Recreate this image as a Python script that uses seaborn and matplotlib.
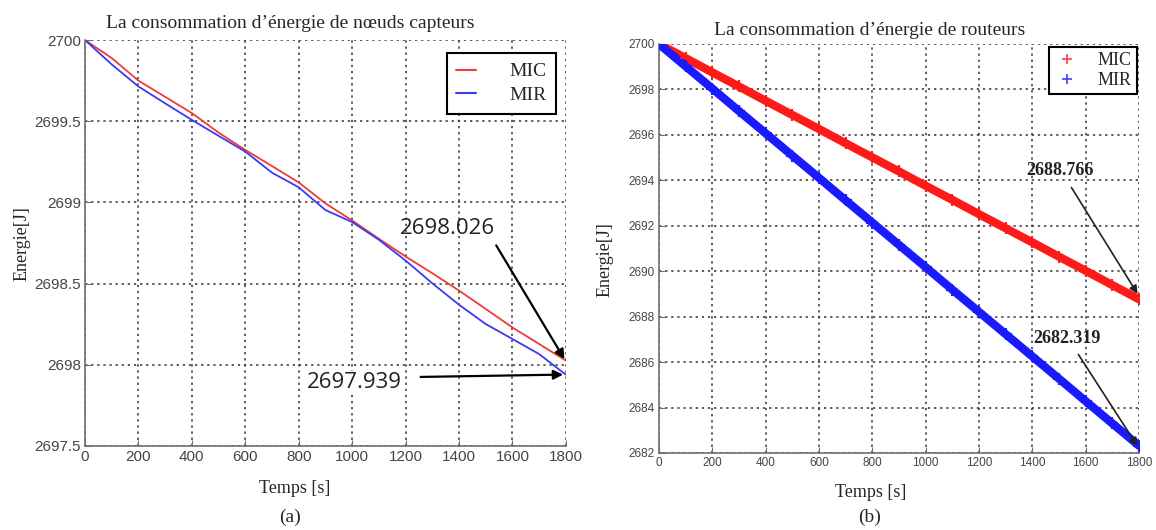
import numpy as np
import pandas as pd
import matplotlib
matplotlib.use('Agg')
import matplotlib.pyplot as plt
import seaborn as sns

# --- données ---
temps = [0, 100, 200, 300, 400, 500, 600, 700, 800, 900,
         1000, 1100, 1200, 1300, 1400, 1500, 1600, 1700, 1800]

# (a) noeuds capteurs
capteurs_mic = [2700.0, 2699.889, 2699.75, 2699.65, 2699.55, 2699.43, 2699.323, 2699.224, 2699.123, 2698.994,
                2698.889, 2698.776, 2698.667, 2698.564, 2698.457, 2698.344, 2698.23, 2698.128, 2698.026]
capteurs_mir = [2700.0, 2699.85, 2699.714, 2699.61, 2699.508, 2699.41, 2699.313, 2699.183, 2699.093, 2698.953,
                2698.879, 2698.77, 2698.642, 2698.502, 2698.37, 2698.251, 2698.159, 2698.066, 2697.939]

# (b) routeurs
routeurs_mic = [2700.0, 2699.38, 2698.75, 2698.13, 2697.50, 2696.88, 2696.26, 2695.63, 2695.01, 2694.39,
                2693.76, 2693.14, 2692.51, 2691.89, 2691.27, 2690.64, 2690.02, 2689.39, 2688.766]
routeurs_mir = [2700.0, 2699.02, 2698.04, 2697.05, 2696.07, 2695.09, 2694.11, 2693.12, 2692.14, 2691.16,
                2690.18, 2689.19, 2688.21, 2687.23, 2686.25, 2685.27, 2684.28, 2683.30, 2682.319]

yticks_a = [2697.5, 2698, 2698.5, 2699, 2699.5, 2700]
yticklabels_a = ['2697.5', '2698', '2698.5', '2699', '2699.5', '2700']
yticks_b = [2682, 2684, 2686, 2688, 2690, 2692, 2694, 2696, 2698, 2700]
xticks = [0, 200, 400, 600, 800, 1000, 1200, 1400, 1600, 1800]

titre_a = 'La consommation d\u2019énergie de nœuds capteurs'
titre_b = 'La consommation d\u2019énergie de routeurs'

sns.set_style('white')
plt.rcParams['font.family'] = ['Liberation Sans', 'DejaVu Sans']

df_a = pd.DataFrame({'Temps': temps * 2,
                     'Energie': capteurs_mic + capteurs_mir,
                     'Méthode': ['MIC'] * len(temps) + ['MIR'] * len(temps)})
df_b = pd.DataFrame({'Temps': temps * 2,
                     'Energie': routeurs_mic + routeurs_mir,
                     'Méthode': ['MIC'] * len(temps) + ['MIR'] * len(temps)})

fig = plt.figure(figsize=(11.56, 5.30), dpi=100)
ax_a = fig.add_axes([0.0735, 0.1585, 0.416, 0.766])
ax_b = fig.add_axes([0.570, 0.1453, 0.4153, 0.7717])

serif = ['Liberation Serif', 'DejaVu Serif']


def style_axes(ax, tick_size):
    ax.grid(True, linestyle=(0, (1.5, 2.5)), color='#333333', linewidth=1.1)
    for s in ['top', 'right']:
        ax.spines[s].set_visible(False)
    for s in ['left', 'bottom']:
        ax.spines[s].set_color('#707070')
        ax.spines[s].set_linewidth(1.2)
    ax.tick_params(direction='in', length=4, color='#707070', labelcolor='#454545',
                   labelsize=tick_size, left=True, bottom=True, pad=3)
    ax.set_xticks(xticks)
    ax.set_xlim(0, 1800)


# (a)
sns.lineplot(data=df_a, x='Temps', y='Energie', hue='Méthode',
             palette={'MIC': '#f03a3a', 'MIR': '#3a3af0'}, linewidth=1.3,
             ax=ax_a, legend=False)
style_axes(ax_a, 11)
ax_a.set_ylim(2697.5, 2700)
ax_a.set_yticks(yticks_a)
ax_a.set_yticklabels(yticklabels_a)
ax_a.set_xlabel('')
ax_a.set_ylabel('')
h1, = ax_a.plot([], [], color='#f03a3a', lw=1.5)
h2, = ax_a.plot([], [], color='#3a3af0', lw=1.5)
leg = ax_a.legend([h1, h2], ['MIC', 'MIR'], loc='upper right', bbox_to_anchor=(0.979, 0.968),
                  borderaxespad=0, fancybox=False, edgecolor='black', framealpha=1,
                  handlelength=1.0, handletextpad=1.7, borderpad=0.5, labelspacing=0.3,
                  prop={'family': serif, 'size': 14})
leg.get_frame().set_linewidth(1.5)

ax_a.annotate('', xy=(1800, 2698.02), xytext=(1534, 2698.75),
              arrowprops=dict(arrowstyle='-|>', color='black', lw=1.6, mutation_scale=14))
ax_a.annotate('', xy=(1800, 2697.94), xytext=(1246, 2697.925),
              arrowprops=dict(arrowstyle='-|>', color='black', lw=1.6, mutation_scale=14))
ax_a.text(1355, 2698.84, '2698.026', fontsize=16, color='#222222', ha='center', va='center',
          family=['Open Sans', 'DejaVu Sans'])
ax_a.text(1007, 2697.894, '2697.939', fontsize=16, color='#222222', ha='center', va='center',
          family=['Open Sans', 'DejaVu Sans'],
          bbox=dict(facecolor='white', edgecolor='none', pad=0.5))

# (b)
for nom, couleur in [('MIC', '#ff1a1a'), ('MIR', '#1a1aff')]:
    sub = df_b[df_b['Méthode'] == nom]
    sns.lineplot(data=sub, x='Temps', y='Energie', color=couleur, linewidth=6,
                 ax=ax_b, legend=False)
    sns.scatterplot(data=sub, x='Temps', y='Energie', color=couleur, marker='+',
                    s=70, linewidth=1.5, ax=ax_b, legend=False, zorder=3)
style_axes(ax_b, 8.5)
ax_b.set_ylim(2682, 2700)
ax_b.set_yticks(yticks_b)
ax_b.set_xlabel('')
ax_b.set_ylabel('')
p1, = ax_b.plot([], [], '+', color='#ff4040', ms=7, mew=1.2)
p2, = ax_b.plot([], [], '+', color='#4040ff', ms=7, mew=1.2)
leg = ax_b.legend([p1, p2], ['MIC', 'MIR'], loc='upper right', bbox_to_anchor=(0.996, 0.993),
                  borderaxespad=0, fancybox=False, edgecolor='black', framealpha=1,
                  handlelength=1.4, handletextpad=1.0, borderpad=0.3, labelspacing=0.15,
                  prop={'family': serif, 'size': 13})
leg.get_frame().set_linewidth(1.5)

ax_b.annotate('', xy=(1800, 2688.9), xytext=(1541, 2693.79),
              arrowprops=dict(arrowstyle='-|>', color='#222222', lw=1.2, mutation_scale=12))
ax_b.annotate('', xy=(1800, 2682.2), xytext=(1567, 2686.44),
              arrowprops=dict(arrowstyle='-|>', color='#222222', lw=1.2, mutation_scale=12))
ax_b.text(1504, 2694.45, '2688.766', fontsize=13, fontweight='bold', color='#222222',
          ha='center', va='center', family=serif)
ax_b.text(1530, 2687.06, '2682.319', fontsize=13, fontweight='bold', color='#222222',
          ha='center', va='center', family=serif)

# titres et étiquettes
fig.text(0.251, 0.956, titre_a, ha='center', va='center', fontsize=14, family=serif)
fig.text(0.752, 0.943, titre_b, ha='center', va='center', fontsize=14, family=serif)
fig.text(0.019, 0.54, 'Energie[J]', rotation=90, ha='center', va='center', fontsize=13, family=serif)
fig.text(0.523, 0.51, 'Energie[J]', rotation=90, ha='center', va='center', fontsize=13, family=serif)
fig.text(0.255, 0.079, 'Temps [s]', ha='center', va='center', fontsize=13, family=serif)
fig.text(0.753, 0.071, 'Temps [s]', ha='center', va='center', fontsize=13, family=serif)
fig.text(0.251, 0.023, '(a)', ha='center', va='center', fontsize=14, family=serif)
fig.text(0.752, 0.023, '(b)', ha='center', va='center', fontsize=14, family=serif)

plt.savefig('out.png', dpi=100)
